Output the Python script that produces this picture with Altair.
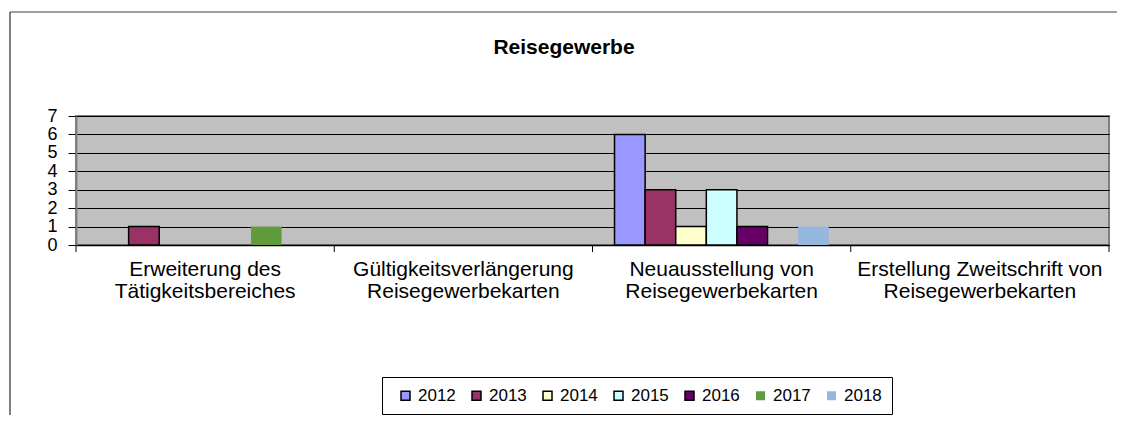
import altair as alt
import pandas as pd

categories = [
    "Erweiterung des\nTätigkeitsbereiches",
    "Gültigkeitsverlängerung\nReisegewerbekarten",
    "Neuausstellung von\nReisegewerbekarten",
    "Erstellung Zweitschrift von\nReisegewerbekarten",
]
years = ["2012", "2013", "2014", "2015", "2016", "2017", "2018"]
values = {
    "2012": [0, 0, 6, 0],
    "2013": [1, 0, 3, 0],
    "2014": [0, 0, 1, 0],
    "2015": [0, 0, 3, 0],
    "2016": [0, 0, 1, 0],
    "2017": [1, 0, 0, 0],
    "2018": [0, 0, 1, 0],
}
fill_colors = ["#9999FF", "#993366", "#FFFFCC", "#CCFFFF", "#660066", "#629B3C", "#95B7DE"]
stroke_colors = ["black", "black", "black", "black", "black", "transparent", "transparent"]
title_text = "Reisegewerbe"
boundaries = [0, 1, 2, 3, 4]

rows = []
for y in years:
    for c, v in zip(categories, values[y]):
        if v > 0:
            rows.append({"category": c, "year": y, "value": v})
df = pd.DataFrame(rows)

FONT = "Liberation Sans"

bars = alt.Chart(df).mark_bar(strokeWidth=1.5).encode(
    x=alt.X(
        "category:N",
        sort=categories,
        scale=alt.Scale(domain=categories, paddingInner=0, paddingOuter=0),
        axis=alt.Axis(
            title=None,
            ticks=False,
            labelAngle=0,
            labelExpr="split(datum.label, '\\n')",
            labelFontSize=21,
            labelLineHeight=22,
            labelPadding=13,
            labelLimit=400,
            labelOverlap=False,
            labelColor="black",
            domainColor="black",
            domainWidth=1.5,
        ),
    ),
    xOffset=alt.XOffset(
        "year:N",
        scale=alt.Scale(domain=years, paddingInner=0, paddingOuter=0.72),
    ),
    y=alt.Y(
        "value:Q",
        scale=alt.Scale(domain=[0, 7], nice=False),
        axis=alt.Axis(
            title=None,
            values=list(range(8)),
            grid=True,
            gridColor="black",
            gridWidth=1,
            tickColor="black",
            tickSize=8,
            labelFontSize=18,
            labelPadding=11,
            labelOverlap=False,
            labelColor="black",
            domainColor="#808080",
            domainWidth=2,
        ),
    ),
    fill=alt.Fill(
        "year:N",
        scale=alt.Scale(domain=years, range=fill_colors),
        legend=alt.Legend(
            title=None,
            orient="none",
            legendX=306,
            legendY=261,
            direction="horizontal",
            fillColor="white",
            strokeColor="black",
            padding=10,
            symbolType="square",
            symbolSize=81,
            symbolStrokeWidth=1.5,
            symbolOffset=5,
            labelFontSize=17,
            labelOffset=4,
            columnPadding=7,
            labelColor="black",
        ),
    ),
    stroke=alt.Stroke(
        "year:N",
        scale=alt.Scale(domain=years, range=stroke_colors),
        legend=alt.Legend(title=None, orient="none", legendX=306, legendY=261, direction="horizontal"),
    ),
)

ticks = alt.Chart(pd.DataFrame({"b": boundaries})).mark_rule(color="black", strokeWidth=1).encode(
    x=alt.X("b:Q", scale=alt.Scale(domain=[0, 4], nice=False, zero=False), axis=None),
    y=alt.value(129),
    y2=alt.value(136),
)

title = alt.Chart(pd.DataFrame({"t": [title_text]})).mark_text(
    font=FONT, fontSize=21, fontWeight="bold", align="center", baseline="alphabetic", color="black"
).encode(text="t:N", x=alt.value(488), y=alt.value(-62))

one = pd.DataFrame({"a": [0]})
border_left = alt.Chart(one).mark_rule(color="#7f7f7f", strokeWidth=2).encode(
    x=alt.value(-66), y=alt.value(-104), y2=alt.value(310)
)
border_top = alt.Chart(one).mark_rule(color="#404040", strokeWidth=1).encode(
    x=alt.value(-66), x2=alt.value(1041), y=alt.value(-104)
)

chart = (
    alt.layer(bars, ticks, title, border_left, border_top)
    .resolve_scale(x="independent")
    .properties(
        width=1033,
        height=129,
        padding={"left": 68, "top": 108, "right": 8, "bottom": 170},
        autosize=alt.AutoSizeParams(type="none"),
        background="white",
    )
    .configure(font=FONT)
    .configure_view(fill="#C0C0C0", stroke="#808080", strokeWidth=2)
)

chart.save("out.html", embed_options={"renderer": "svg", "actions": False})
